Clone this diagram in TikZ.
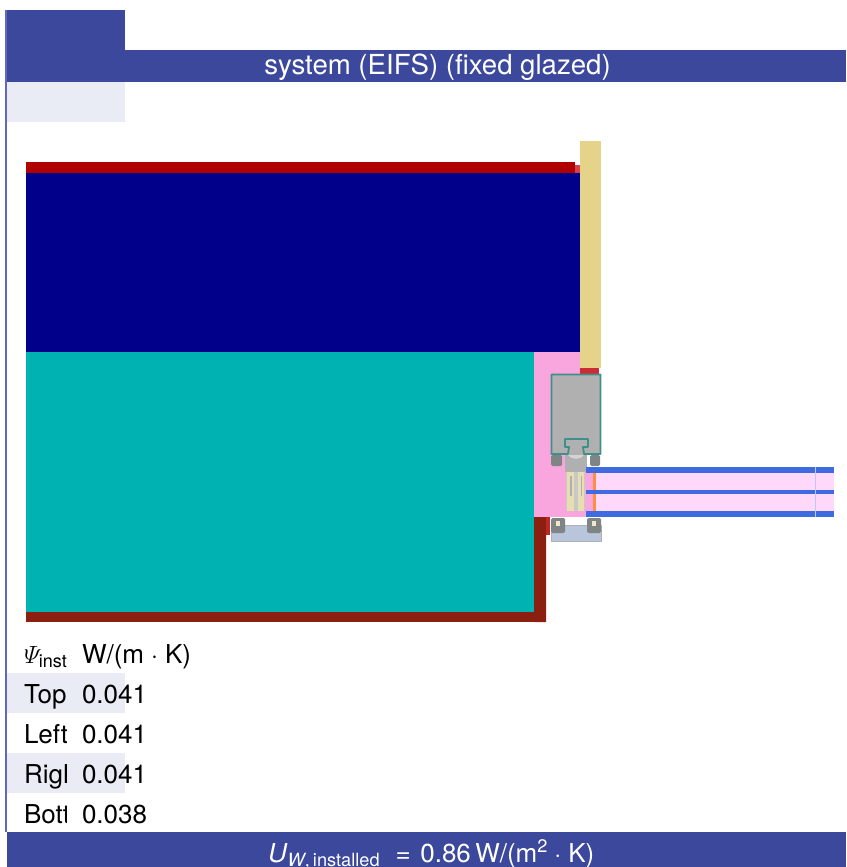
\documentclass[tikz,border=0pt]{standalone}
\usepackage{fontspec}
\setmainfont{TeX Gyre Heros}
\definecolor{hdr}{HTML}{3B489B}
\definecolor{rule}{HTML}{6068BE}
\definecolor{rowb}{HTML}{E9ECF5}
\definecolor{redtop}{HTML}{B00000}
\definecolor{redlt}{HTML}{D8404A}
\definecolor{navy}{HTML}{00008B}
\definecolor{teal}{HTML}{00B3B3}
\definecolor{sand}{HTML}{E5D389}
\definecolor{pinkf}{HTML}{F9A6DE}
\definecolor{brick}{HTML}{8B2010}
\definecolor{greyb}{HTML}{B0B0B0}
\definecolor{greyd}{HTML}{7F8584}
\definecolor{edge}{HTML}{3F8F8A}
\definecolor{glassb}{HTML}{3F6BE0}
\definecolor{glassf}{HTML}{FFD8FA}
\definecolor{baseb}{HTML}{B9C5DC}
\definecolor{breakf}{HTML}{E8DFB0}
\tikzset{
  cell/.style={anchor=base west,inner sep=0pt,outer sep=0pt,font=\fontsize{26}{30}\selectfont,text=black},
  band/.style={fill=hdr,draw=none},
  rowband/.style={fill=rowb,draw=none},
  glassbar/.style={fill=glassb,draw=none},
  foot/.style={fill=greyd,draw=none,rounded corners=1.5pt},
  footdot/.style={fill=breakf!70!white,draw=none}
}
\begin{document}
\begin{tikzpicture}[x=1pt,y=-1pt]
\useasboundingbox (0,0) rectangle (846,867);
% frame and bands
\fill[band] (7,10) rectangle (125,50);
\fill[band] (7,50) rectangle (846,82);
\fill[rowband] (7,82) rectangle (125,122);
\fill[rowband] (7,673) rectangle (125,713);
\fill[rowband] (7,753) rectangle (125,793);
\fill[band] (7,832) rectangle (846,867);
\draw[rule,line width=1.2pt] (6,10) -- (6,832);
\node[anchor=base,inner sep=0pt,text=white,font=\fontsize{27.6}{32}\selectfont] (title) at (437.5,74.5) {system (EIFS) (fixed glazed)};
% wall section
\fill[redtop] (26,162) rectangle (575,173);
\fill[redlt] (575,165) rectangle (580,173);
\fill[navy] (26,173) rectangle (580,352);
\fill[sand] (580,141) rectangle (601,368);
\fill[teal] (26,352) rectangle (534,612);
\fill[pinkf] (534,352) rectangle (580,374);
\fill[pinkf] (534,374) rectangle (587,517);
\fill[redlt!70!redtop] (580,368) rectangle (599,374);
\fill[brick] (26,612) -- (545,612) -- (545,622) -- (26,622) -- cycle;
\fill[brick] (534,517) -- (546,517) -- (546,622) -- (535,622) -- (535,612) -- (534,612) -- cycle;
\fill[redtop!85!white] (546,517) rectangle (550,535);
% frame profile
\fill[greyb] (551.5,374.5) rectangle (600.5,454);
\fill[greyb] (565,454) rectangle (587,472);
\draw[edge,line width=1.8pt,line join=round]
  (568,454) -- (551.5,454) -- (551.5,374.5) -- (600.5,374.5) -- (600.5,454) -- (584,454)
  -- (583,447) -- (588,447) -- (588,439) -- (565,439) -- (565,447) -- (569,447) -- (568,454);
\fill[greyb!55!white] (568,455) .. controls (571,460) and (581,460) .. (584,455) -- cycle;
\fill[foot] (551,455) rectangle (562,466);
\fill[foot] (590,455) rectangle (600,466);
% thermal break
\fill[greyb!70!white] (566,472) rectangle (585,511);
\fill[breakf] (567,472) rectangle (574,511);
\fill[breakf] (578,472) rectangle (584,511);
\fill[greyb] (570,476) rectangle (571.5,496);
\fill[greyb] (580.5,476) rectangle (582,496);
% glazing
\fill[pinkf] (587,472) rectangle (594,511);
\fill[glassf] (594,472) rectangle (834,511);
\fill[orange!80!red!75!white] (593,472) rectangle (595.5,511);
\fill[glassbar] (586,467) rectangle (834,472.5);
\fill[glassbar] (586,490) rectangle (834,494);
\fill[glassbar] (586,511) rectangle (834,517);
\fill[glassb!35!white] (815,467) rectangle (816,517);
% bottom bead
\fill[baseb,draw=greyb,line width=0.8pt] (551,525) -- (551,541) -- (601,541) -- (601,525) -- cycle;
\fill[foot] (551,518) rectangle (565,533);
\fill[foot] (587,518) rectangle (601,533);
\fill[footdot] (556,521) rectangle (560,526);
\fill[footdot] (592,521) rectangle (596,526);
% table
\begin{scope}
\clip (7,640) rectangle (66,832);
\node[cell] (psi) at (24,663) {$\mathnormal{\Psi}_{\mbox{\fontsize{18}{20}\selectfont inst}}$};
\node[cell] (top) at (24,703) {Top};
\node[cell] (left) at (24,743) {Left};
\node[cell] (right) at (24,783) {Right};
\node[cell] (bottom) at (24,823) {Bottom};
\end{scope}
\node[cell] (unit) at (82,663) {W/(m\hspace{7pt}$\cdot$\hspace{7pt}K)};
\node[cell] (v1) at (82,703) {0.041};
\node[cell] (v2) at (82,743) {0.041};
\node[cell] (v3) at (82,783) {0.041};
\node[cell] (v4) at (82,823) {0.038};
\begin{scope}
\clip (0,832) rectangle (846,867);
\node[anchor=base west,inner sep=0pt,text=white,font=\fontsize{26}{30}\selectfont] (uw) at (268,862) {\textit{U}\raisebox{-4.5pt}{\fontsize{18.2}{20}\selectfont\textit{W},\,installed}\hspace{16pt}=\hspace{9.5pt}0.86\,W/(m\raisebox{10pt}{\fontsize{18.2}{20}\selectfont 2}\hspace{7pt}$\cdot$\hspace{7pt}K)};
\end{scope}
\end{tikzpicture}
\end{document}
